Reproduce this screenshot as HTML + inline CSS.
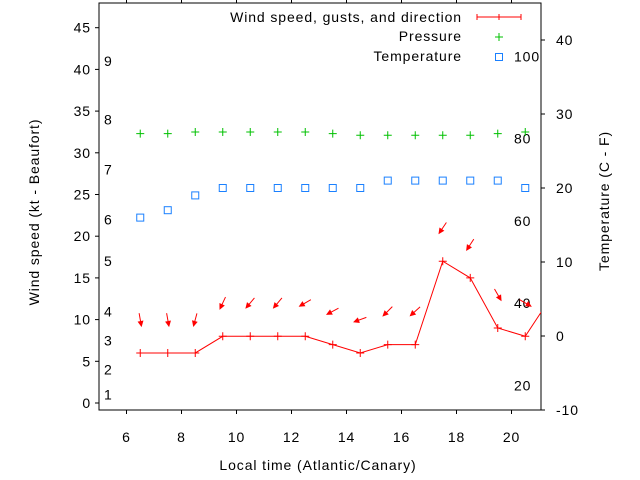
<!DOCTYPE html>
<html><head><meta charset="utf-8"><style>
body{margin:0;background:#fff}
svg{display:block;font-family:"Liberation Sans",sans-serif;font-size:14px}
text{letter-spacing:0.9px}
</style></head><body>
<svg id="c" width="640" height="480" viewBox="0 0 640 480"></svg>
<script>
const hours=[6.5,7.5,8.5,9.5,10.5,11.5,12.5,13.5,14.5,15.5,16.5,17.5,18.5,19.5,20.5,21.5];
const windSpeed=[6,6,6,8,8,8,8,7,6,7,7,17,15,9,8,13];
const windDir=[350,350,15,25,40,40,60,62,70,45,48,34,33,330,300,300];
const pressure=[32.3,32.3,32.5,32.5,32.5,32.5,32.5,32.3,32.1,32.1,32.1,32.1,32.1,32.3,32.5];
const tempC=[16,17,19,20,20,20,20,20,20,21,21,21,21,21,20];
const xTicks=[6,8,10,12,14,16,18,20];
const yTicks=[0,5,10,15,20,25,30,35,40,45];
const cTicks=[-10,0,10,20,30,40];
const fLabels=[20,40,60,80,100];
const beaufort=[1,2,3,4,5,6,7,8,9];
const beaufortKt=[1,4,7.5,11,17,22,28,34,41];

const L=99,R=541,T=3,B=410;
const X=v=>L+(v-5)*27.5;
const Y=v=>403-v*8.34;
const YC=c=>336-c*7.4;
const svg=document.getElementById('c');
const NS='http://www.w3.org/2000/svg';
function mk(t,a,p){const e=document.createElementNS(NS,t);for(const k in a)e.setAttribute(k,a[k]);(p||svg).appendChild(e);return e;}

const defs=mk('defs',{});const cp=mk('clipPath',{id:'pc'},defs);mk('rect',{x:L,y:T,width:R-L,height:B-T},cp);

const box=mk('rect',{x:L,y:T,width:R-L,height:B-T,fill:'none',stroke:'#000','stroke-width':1});



xTicks.forEach(v=>{
  const t=mk('line',{x1:X(v),x2:X(v),y1:B,y2:B+4,stroke:'#000'});
  
  
  const t2=mk('line',{x1:X(v),x2:X(v),y1:T,y2:T-4,stroke:'#000'});
  
  
  const tx=mk('text',{x:X(v),y:442,'text-anchor':'middle'});tx.textContent=v;
  
  
});
yTicks.forEach(v=>{
  const t=mk('line',{x1:L-4,x2:L,y1:Y(v),y2:Y(v),stroke:'#000'});
  
  
  const tx=mk('text',{x:91,y:Y(v)+5,'text-anchor':'end'});tx.textContent=v;
  
  
});
beaufort.forEach((b,i)=>{
  const tx=mk('text',{x:104,y:Y(beaufortKt[i])+5});tx.textContent=b;
  
  
});
cTicks.forEach(v=>{
  const t=mk('line',{x1:R,x2:R+4,y1:YC(v),y2:YC(v),stroke:'#000'});
  
  
  const tx=mk('text',{x:556,y:YC(v)+5});tx.textContent=v;
  
  
});
fLabels.forEach(f=>{
  const tx=mk('text',{x:514,y:YC((f-32)*5/9)+5});tx.textContent=f;
  
  
});

const g=mk('g',{'clip-path':'url(#pc)'});



pressure.forEach((p,i)=>{
  const x=X(hours[i]),y=Y(p);
  const e=mk('path',{d:`M${x-4},${y}h8M${x},${y-4}v8`,stroke:'#00c000','stroke-width':1},g);
  
  
});
tempC.forEach((c,i)=>{
  const e=mk('rect',{x:X(hours[i])-3.5,y:YC(c)-3.5,width:7,height:7,fill:'none',stroke:'#1a80ff','stroke-width':1},g);
  
  
});
const pl=mk('polyline',{points:windSpeed.map((w,i)=>X(hours[i])+','+Y(w)).join(' '),fill:'none',stroke:'#ff0000','stroke-width':1},g);


windSpeed.forEach((w,i)=>{
  const x=X(hours[i]),y=Y(w);
  const e=mk('path',{d:`M${x-4},${y}h8M${x},${y-4}v8`,stroke:'#ff0000'},g);
  
  
});
windDir.forEach((d,i)=>{
  const cx=X(hours[i]),cy=Y(windSpeed[i]+4);
  const r=d*Math.PI/180;
  const dx=-Math.sin(r),dy=Math.cos(r);
  const len=13;
  const x1=cx-dx*len/2,y1=cy-dy*len/2,x2=cx+dx*len/2,y2=cy+dy*len/2;
  const ah=5,aw=0.45;
  const a1x=x2-ah*(dx*Math.cos(aw)-dy*Math.sin(aw)),a1y=y2-ah*(dy*Math.cos(aw)+dx*Math.sin(aw));
  const a2x=x2-ah*(dx*Math.cos(-aw)-dy*Math.sin(-aw)),a2y=y2-ah*(dy*Math.cos(-aw)+dx*Math.sin(-aw));
  const e=mk('path',{d:`M${x1},${y1}L${x2},${y2}M${a1x},${a1y}L${x2},${y2}L${a2x},${a2y}Z`,stroke:'#ff0000',fill:'#ff0000','stroke-width':1},g);
  
  
});
</script>
<svg width="640" height="480" style="position:absolute;left:0;top:0;font-family:'Liberation Sans',sans-serif;font-size:14px">
<g>
<text x="462" y="22" text-anchor="end">Wind speed, gusts, and direction</text>
<path d="M477,17H521M477,14v6M499,14v6M521,14v6" stroke="#ff0000" fill="none"/>
<text x="462" y="41" text-anchor="end">Pressure</text>
<path d="M495,37h8M499,33v8" stroke="#00c000"/>
<text x="462" y="61" text-anchor="end">Temperature</text>
<rect x="495.5" y="53.5" width="7" height="7" fill="none" stroke="#1a80ff"/>
</g>
<text x="318" y="470" text-anchor="middle">Local time (Atlantic/Canary)</text>
<text transform="translate(39,212) rotate(-90)" text-anchor="middle">Wind speed (kt - Beaufort)</text>
<text transform="translate(609,201) rotate(-90)" text-anchor="middle">Temperature (C - F)</text>
</svg>
</body></html>
